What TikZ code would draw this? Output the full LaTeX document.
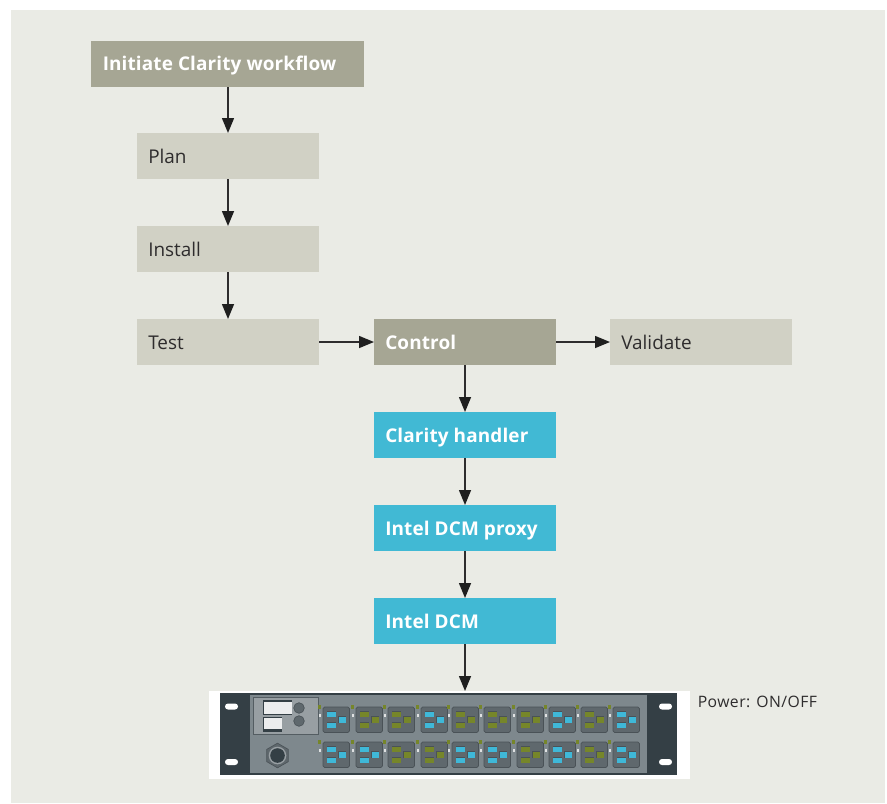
\documentclass[tikz,border=0pt]{standalone}
\usepackage{fontspec}
\setmainfont{Open Sans}
\usetikzlibrary{arrows.meta,shapes.geometric}
\definecolor{panelbg}{HTML}{EAEBE5}
\definecolor{lightbox}{HTML}{D1D1C5}
\definecolor{darkbox}{HTML}{A6A694}
\definecolor{cyanbox}{HTML}{41B9D4}
\definecolor{linecol}{HTML}{2E2C2D}
\definecolor{rackdark}{HTML}{343F45}
\definecolor{rackplate}{HTML}{7E888D}
\definecolor{rackpanel}{HTML}{989FA3}
\definecolor{outletbody}{HTML}{5F686D}
\definecolor{outletedge}{HTML}{4A5257}
\definecolor{pinblue}{HTML}{3FB8D8}
\definecolor{pinolive}{HTML}{76862A}
\tikzset{
  x=0.75pt,y=-0.75pt,
  flowbox/.style={anchor=north west,minimum width=136.5pt,minimum height=34.5pt,inner sep=0pt,outer sep=0pt},
  lightstep/.style={flowbox,fill=lightbox},
  darkstep/.style={flowbox,fill=darkbox},
  cyanstep/.style={flowbox,fill=cyanbox},
  lab/.style={anchor=base west,inner sep=0pt,font=\fontsize{14.2pt}{16pt}\selectfont,text=linecol},
  whitelab/.style={lab,text=white,font=\bfseries\fontsize{14.2pt}{16pt}\selectfont\addfontfeature{LetterSpace=0.7}},
  arrowline/.style={draw=linecol,line width=1.1pt,-{Triangle[length=11.25pt,width=9pt,color=black!88]}},
}
\newcommand{\outlet}[3]{% x, y, colour
  \fill[outletbody,draw=outletedge,line width=0.6pt,rounded corners=1.2pt] (#1,#2) rectangle ++(26.5,25.5);
  \fill[outletedge] (#1+3.6,#2+4.4) rectangle ++(9.8,6);
  \fill[#3] (#1+4.2,#2+5) rectangle ++(8.6,4.8);
  \fill[outletedge] (#1+3.6,#2+15.2) rectangle ++(9.8,6);
  \fill[#3] (#1+4.2,#2+15.8) rectangle ++(8.6,4.8);
  \fill[outletedge] (#1+15.2,#2+9.2) rectangle ++(8,7.2);
  \fill[#3] (#1+15.8,#2+9.8) rectangle ++(6.8,6);
  \fill[pinolive] (#1-4.6,#2-2.5) rectangle ++(3,4.6);
  \fill[white!75!rackplate] (#1-4.3,#2+7) rectangle ++(2.4,3);
}
\begin{document}
\begin{tikzpicture}
\useasboundingbox (0,0) rectangle (887,803);
\fill[white] (0,0) rectangle (887,803);
\fill[panelbg] (11,10) rectangle (885,803);

\node[flowbox,fill=darkbox,minimum width=204.75pt] (init) at (91,41) {};
\node[lightstep] (plan) at (137,133) {};
\node[lightstep] (install) at (137,226) {};
\node[lightstep] (test) at (137,319) {};
\node[darkstep] (control) at (374,319) {};
\node[lightstep] (validate) at (610,319) {};
\node[cyanstep] (handler) at (374,412) {};
\node[cyanstep] (proxy) at (374,505) {};
\node[cyanstep] (dcm) at (374,598) {};

\node[whitelab] at (102.5,70.5) {Initiate Clarity workflow};
\node[lab] at (148,163) {Plan};
\node[lab] at (148,256) {Install};
\node[lab] at (148,349) {Test};
\node[whitelab] at (385,349) {Control};
\node[lab] at (621,349) {Validate};
\node[whitelab] at (385,442) {Clarity handler};
\node[whitelab] at (385,535) {Intel DCM proxy};
\node[whitelab] at (385,628) {Intel DCM};

% rack
\node[anchor=north west,minimum width=360.75pt,minimum height=66pt,inner sep=0pt,outer sep=0pt,fill=white] (rack) at (209,691) {};
\fill[rackdark] (220,693) rectangle (677,775);
\fill[rackplate] (250,695) rectangle (647,773);
\foreach \yy in {706.5,762}{
  \fill[white,rounded corners=2.2pt] (225,\yy-3) rectangle (238,\yy+3);
  \fill[white,rounded corners=2.2pt] (659,\yy-3) rectangle (672,\yy+3);
}
% control panel
\fill[rackpanel,draw=outletedge!80!rackplate,line width=0.6pt] (253,697) rectangle (318,734);
\fill[rackdark] (263,699.5) rectangle (292,715);
\fill[white!85!rackplate] (263.5,702) rectangle (291.5,714.3);
\fill[rackdark] (263,717) rectangle (282,732);
\fill[white!85!rackplate] (263.5,717.7) rectangle (281.5,729);
\fill[outletbody,draw=outletedge,line width=0.5pt] (299,708) circle (5.3);
\fill[outletbody,draw=outletedge,line width=0.5pt] (299,721) circle (5.3);
% gland
\node[regular polygon,regular polygon sides=6,rotate=30,minimum size=18.5pt,inner sep=0pt,fill=outletbody,draw=outletedge,line width=0.5pt] (gland) at (277.5,755.5) {};
\fill[rackpanel] (277.5,755.5) circle (8.8);
\fill[rackdark] (277.5,755.5) circle (7.3);

\foreach \i/\xx/\ca/\cb in {
 1/323/pinblue/pinblue,2/356/pinolive/pinblue,3/388/pinolive/pinolive,4/421/pinblue/pinolive,
 5/452/pinolive/pinblue,6/484/pinolive/pinblue,7/517/pinolive/pinolive,8/549/pinblue/pinblue,
 9/581/pinolive/pinolive,10/613/pinblue/pinblue}{
  \outlet{\xx}{707}{\ca}
  \outlet{\xx}{742}{\cb}
}

\node[lab,font=\fontsize{11.8pt}{14pt}\selectfont\addfontfeature{LetterSpace=2.8}] (power) at (697.5,707) {Power: ON/OFF};

% connectors
\draw[arrowline] (init.south -| plan.north) -- (plan.north);
\draw[arrowline] (plan.south) -- (install.north);
\draw[arrowline] (install.south) -- (test.north);
\draw[arrowline] (test.east) -- (control.west);
\draw[arrowline] (control.east) -- (validate.west);
\draw[arrowline] (control.south) -- (handler.north);
\draw[arrowline] (handler.south) -- (proxy.north);
\draw[arrowline] (proxy.south) -- (dcm.north);
\draw[arrowline] (dcm.south) -- (dcm.south |- rack.north);
\end{tikzpicture}
\end{document}
